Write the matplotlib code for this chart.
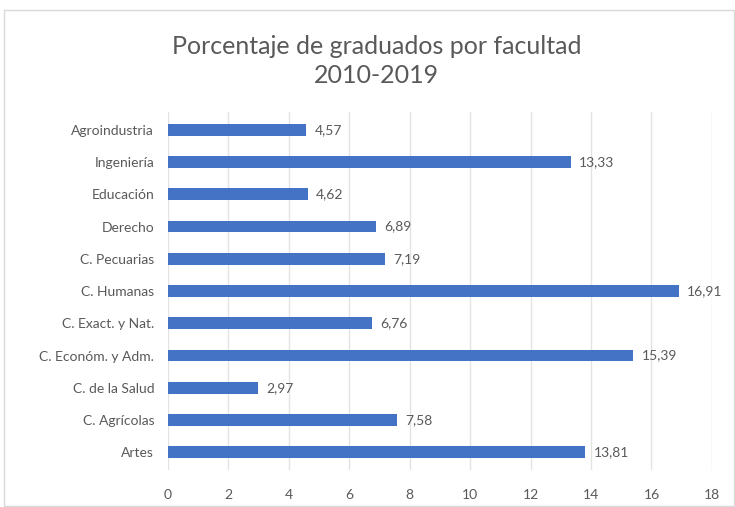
import matplotlib.pyplot as plt
from matplotlib.patches import Rectangle

# Datos (porcentaje de graduados, 2010-2019)
facultades = ['Artes', 'C. Agrícolas', 'C. de la Salud', 'C. Económ. y Adm.',
              'C. Exact. y Nat.', 'C. Humanas', 'C. Pecuarias', 'Derecho',
              'Educación', 'Ingeniería', 'Agroindustria']
porcentajes = [13.81, 7.58, 2.97, 15.39, 6.76, 16.91, 7.19, 6.89, 4.62, 13.33, 4.57]
ticks_x = [0, 2, 4, 6, 8, 10, 12, 14, 16, 18]

plt.rcParams['font.family'] = ['Lato', 'DejaVu Sans']
gris = '#595959'

fig = plt.figure(figsize=(7.35, 5.07), dpi=100)
# borde del area del grafico
fig.patches.append(Rectangle((4/735, 0.002), 1 - 4/735 - 0.002, 1 - 10/507 - 0.002,
                             transform=fig.transFigure, fill=False,
                             edgecolor='#d9d9d9', linewidth=1))

ax = fig.add_axes([0.2286, 0.073, 0.740, 0.706])
y = range(len(facultades))
barras = ax.barh(y, porcentajes, height=0.36, color='#4472C4', zorder=3)

for b, v in zip(barras, porcentajes):
    ax.annotate(f'{v:.2f}'.replace('.', ','),
                xy=(b.get_width(), b.get_y() + b.get_height() / 2),
                xytext=(6, 0), textcoords='offset points',
                ha='left', va='center', fontsize=10, color=gris)

ax.set_xlim(0, 18)
ax.set_ylim(-0.55, len(facultades) - 0.45)
ax.set_xticks(ticks_x)
ax.set_yticks(list(y))
ax.set_yticklabels(facultades)
ax.tick_params(axis='both', length=0, labelsize=10, colors=gris)
ax.tick_params(axis='x', pad=14)
ax.tick_params(axis='y', pad=10)
ax.grid(axis='x', color='#e3e3e3', linewidth=1, zorder=0)
for s in ax.spines.values():
    s.set_visible(False)

fig.text(0.512, 0.88, 'Porcentaje de graduados por facultad\n2010-2019',
         ha='center', va='center', fontsize=18, color=gris, linespacing=1.3)

fig.savefig('out.png', dpi=100)
